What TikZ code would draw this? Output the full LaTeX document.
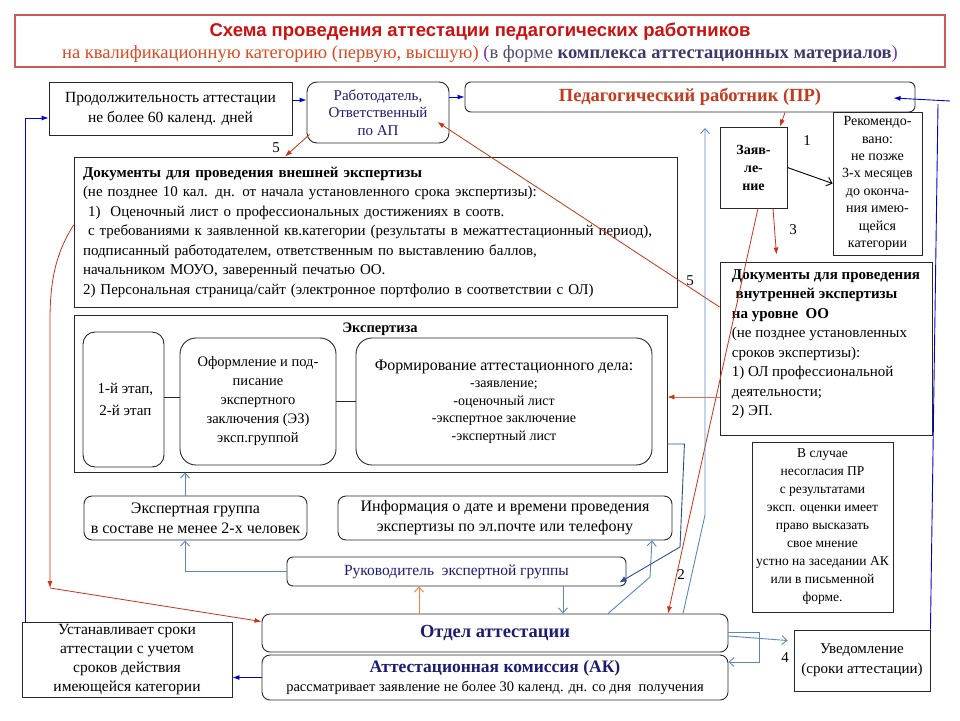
\documentclass[tikz,border=0pt]{standalone}
\usepackage{fontspec}
\setmainfont{Liberation Serif}
\newfontfamily\titlesans{Liberation Sans}
\usetikzlibrary{arrows.meta,calc}
\definecolor{boxgray}{RGB}{40,40,40}
\definecolor{titlered}{RGB}{205,90,90}
\definecolor{tred}{RGB}{204,17,17}
\definecolor{torange}{RGB}{224,72,30}
\definecolor{tpurple}{RGB}{125,50,180}
\definecolor{tgray}{RGB}{80,75,110}
\definecolor{tslate}{RGB}{64,56,106}
\definecolor{navy}{RGB}{28,28,115}
\definecolor{prred}{RGB}{196,58,30}
\definecolor{pureblue}{RGB}{0,0,210}
\definecolor{redc}{RGB}{205,50,20}
\definecolor{palered}{RGB}{225,110,95}
\definecolor{steel}{RGB}{90,135,195}
\definecolor{darksteel}{RGB}{45,80,140}
\definecolor{orangec}{RGB}{240,130,60}
\newcommand\myfsA{\fontsize{15}{20}\selectfont}
\newcommand\myfsC{\fontsize{14}{17.4}\selectfont}
\newcommand\myfsD{\fontsize{15}{19.5}\selectfont}
\begin{document}
\begin{tikzpicture}[x=1pt,y=-1pt,
  box/.style={draw=boxgray, line width=0.9pt, inner sep=2pt, align=center, fill=white},
  rbox/.style={box, rounded corners=8pt},
  blueA/.style={draw=pureblue, line width=0.9pt, -{Latex[length=7pt,width=5pt]}},
  blueL/.style={draw=pureblue, line width=0.9pt},
  redA/.style={draw=redc, line width=0.8pt, -{Latex[length=7pt,width=5pt]}},
  redL/.style={draw=palered, line width=0.8pt, -{Latex[length=7pt,width=5pt,color=redc]}},
  sbA/.style={draw=steel, line width=0.9pt, -{Straight Barb[length=5pt,width=9pt]}},
  dbA/.style={draw=darksteel, line width=0.9pt, -{Latex[length=7pt,width=6pt]}},
  orA/.style={draw=orangec, line width=0.9pt, -{Straight Barb[length=5pt,width=9pt]}},
  blkA/.style={draw=black, line width=0.9pt, -{Straight Barb[length=5pt,width=9pt]}},
  lbl/.style={font=\myfsA, inner sep=1pt}]
\useasboundingbox (0,0) rectangle (960,720);
\fill[white] (0,0) rectangle (960,720);

% title
\node[box, draw=titlered, line width=1.2pt, minimum width=930pt, minimum height=52pt] (title) at (480,41) {};
\node[font=\titlesans\bfseries\fontsize{18.5}{21}\selectfont, text=tred] (t1) at (480,32) {Схема проведения аттестации педагогических работников};
\node[font=\fontsize{18.5}{21}\selectfont] (t2) at (480,54) {\textcolor{torange}{на квалификационную категорию (первую, высшую)} \textcolor{tpurple}{(}\textcolor{tgray}{в форме} \textcolor{tslate}{\textbf{комплекса аттестационных материалов}}\textcolor{tpurple}{)}};

% top row
\node[box, minimum width=243pt, minimum height=53pt, font=\fontsize{15.5}{20}\selectfont] (prod) at (170.5,108.5) {Продолжительность аттестации\\не более 60 календ. дней};
\node[rbox, rounded corners=10pt, minimum width=142pt, minimum height=61pt, font=\fontsize{15}{17.5}\selectfont, text=navy] (rab) at (378,112.5) {Работодатель,\\Ответственный\\по АП};
\node[rbox, rounded corners=6pt, minimum width=450pt, minimum height=30pt, font=\bfseries\fontsize{18.5}{21}\selectfont, text=prred] (pr) at (690,97) {Педагогический работник (ПР)};

% right column
\node[box, minimum width=67pt, minimum height=81pt, font=\bfseries\fontsize{14}{18}\selectfont] (zayav) at (753.5,167.5) {Заяв-\\ле-\\ние};
\node[box, minimum width=89pt, minimum height=143pt, font=\myfsC] (rekom) at (877.5,183.5) {Рекомендо-\\вано:\\не позже\\3-х месяцев\\до оконча-\\ния имею-\\щейся\\категории};
\node[box, minimum width=212pt, minimum height=173pt, align=left, font=\myfsD] (int) at (826,348.5) {\textbf{Документы для проведения}\\\textbf{\ внутренней экспертизы}\\\textbf{на уровне\ \ ОО}\\(не позднее установленных\\сроков экспертизы):\\1) ОЛ профессиональной\\деятельности;\\2) ЭП.\\[-7.5pt]};
\node[box, minimum width=141pt, minimum height=170pt, font=\fontsize{13.5}{18}\selectfont] (sl) at (822.5,527) {В случае\\несогласия ПР\\с результатами\\эксп. оценки имеет\\право высказать\\свое мнение\\устно на заседании АК\\или в письменной\\форме.};
\node[box, minimum width=136pt, minimum height=61pt, font=\myfsA] (uv) at (862,660.5) {Уведомление\\(сроки аттестации)};

% external documents
\node[box, inner xsep=9pt, text width=585pt, minimum height=150pt, align=left, font=\fontsize{15}{19.5}\selectfont] (ext) at (375.5,232) {\textbf{Документы для проведения внешней экспертизы}\\(не позднее 10 кал. дн. от начала установленного срока экспертизы):\\\ 1)\ \ Оценочный лист о профессиональных достижениях в соотв.\\\ с требованиями к заявленной кв.категории (результаты в межаттестационный период),\\подписанный работодателем, ответственным по выставлению баллов,\\начальником МОУО, заверенный печатью ОО.\\2) Персональная страница/сайт (электронное портфолио в соответствии с ОЛ)};

% expertise
\node[box, minimum width=593pt, minimum height=157pt] (exp) at (370.5,393.5) {};
\node[font=\bfseries\fontsize{14.5}{17}\selectfont, inner sep=1pt] (expt) at (380,329) {Экспертиза};
\node[rbox, rounded corners=12pt, minimum width=81pt, minimum height=135pt, font=\fontsize{15}{22}\selectfont] (st) at (123.5,399.5) {\ 1-й этап,\\\ 2-й этап};
\node[rbox, rounded corners=16pt, minimum width=156pt, minimum height=127pt, font=\fontsize{14.5}{19}\selectfont] (of) at (258,401.5) {Оформление и под-\\писание\\экспертного\\заключения (ЭЗ)\\эксп.группой};
\node[rbox, rounded corners=16pt, minimum width=296pt, minimum height=127pt, font=\fontsize{14}{17.5}\selectfont] (fo) at (504,401.5) {{\fontsize{16}{18}\selectfont Формирование аттестационного дела:}\\-заявление;\\-оценочный лист\\-экспертное заключение\\-экспертный лист};

% lower boxes
\node[rbox, minimum width=223pt, minimum height=44pt, font=\fontsize{16}{20}\selectfont] (eg) at (195.5,518) {Экспертная группа\\в составе не менее 2-х человек};
\node[rbox, minimum width=334pt, minimum height=44pt, font=\fontsize{16}{20}\selectfont] (inf) at (505,518) {Информация о дате и времени проведения\\экспертизы по эл.почте или телефону};
\node[rbox, rounded corners=6pt, minimum width=339pt, minimum height=29pt, font=\fontsize{15.5}{20}\selectfont, text=navy] (ruk) at (456.5,571.5) {Руководитель\ \ экспертной группы};
\node[rbox, minimum width=466pt, minimum height=38pt, font=\bfseries\fontsize{18.5}{20}\selectfont, text=navy] (otd) at (495,633) {Отдел\ аттестации};
\node[rbox, minimum width=466pt, minimum height=45pt, font=\fontsize{14.5}{18.5}\selectfont] (ak) at (495,677.5) {{\bfseries\fontsize{17.5}{19}\selectfont\color{navy}Аттестационная комиссия (АК)}\\рассматривает заявление не более 30 календ. дн. со дня\ \ получения};
\node[box, minimum width=210pt, minimum height=75pt, font=\fontsize{15.5}{19}\selectfont] (ust) at (127,659.5) {Устанавливает сроки\\аттестации с учетом\\сроков действия\\имеющейся категории};

% coordinates
\coordinate (rtop) at (938,104);
\coordinate (rstart) at (950,101);
\coordinate (lb) at (50,588);
\coordinate (m1) at (650,577);
\coordinate (m2) at (705,515);
\coordinate (pa) at (705,128);
\coordinate (m3) at (680,547);

% blue connectors
\draw[blueA] ([yshift=8.5pt]prod.east) -- ([yshift=8.5pt]prod.east -| rab.west);
\draw[blueA] (rab.east |- pr.west) -- (pr.west);
\draw[blueA] ([xshift=4pt]ust.north west) |- ([yshift=-9.5pt]prod.west);
\draw[blueA] (ak.west) -- (ak.west -| ust.east);
\draw[blueL] (uv.north east) -- (rtop);
\draw[blueA] (rstart) -- ([xshift=-22pt,yshift=-1pt]pr.east);

% red connectors
\draw[redA] ([xshift=95pt]pr.south) -- ([xshift=26.5pt]zayav.north);
\draw[redA, shorten >=7pt] ([xshift=19.5pt]zayav.south) -- ([xshift=-49pt]int.north);
\draw[redA] ([xshift=4.5pt]zayav.south) -- ([xshift=173pt]otd.north);
\draw[redA] ([xshift=3pt,yshift=9pt]rab.south west) -- ([xshift=-90.5pt]ext.north);
\draw[redA] ([yshift=41.5pt]int.west) -- ([xshift=-12pt,yshift=-9.5pt]rab.east);
\draw[redL] ([yshift=-48.5pt]int.west) -- ([yshift=-48.5pt]int.west -| exp.east);
\draw[redA] ([yshift=7pt]ext.west) .. controls (58,250) and (50,275) .. (50,320) -- (lb);
\draw[redA] (lb) -- ([yshift=-8pt]otd.north west);

% steel blue connectors
\draw[sbA] (ruk.west) -| ([xshift=-10.5pt]eg.south);
\draw[sbA] ([xshift=-10.5pt]eg.north) -- ([xshift=-10.5pt]eg.north |- exp.south);
\draw[sbA] ([xshift=106.5pt]ruk.south) -- ([xshift=106.5pt]ruk.south |- otd.north);
\draw[orA] ([xshift=-76pt]otd.north) -- ([xshift=-76pt]otd.north |- ruk.south);
\draw[sbA] ([xshift=113pt]otd.north) -- (m1) -- ([xshift=147pt]inf.south);
\draw[sbA] ([xshift=188pt]otd.north) -- (m2) -- (pa);
\draw[dbA] ([yshift=-50.5pt]exp.east) -- ++(17,0) -- (m3) -- ([xshift=-7pt,yshift=4pt]ruk.south east);
\draw[sbA, shorten >=6pt] ([yshift=-3pt]otd.east) -- ([yshift=19.5pt]uv.west);
\draw[sbA] ([yshift=1pt]otd.east) -- ++(31,0) |- ([yshift=15.5pt]ak.east);

% black
\draw[blkA] (zayav.east) -- (rekom.west);

% inner links
\draw[line width=0.9pt, draw=boxgray] ([yshift=2pt]st.east) -- ([yshift=2pt]st.east -| of.west);
\draw[line width=0.9pt, draw=boxgray] (of.east) -- (fo.west);

% labels
\node[lbl] (n1) at (807,141) {1};
\node[lbl] (n3) at (793,230) {3};
\node[lbl] (n2) at (681,575) {2};
\node[lbl] (n5a) at (276,148) {5};
\node[lbl] (n5b) at (690,281) {5};
\node[lbl] (n4) at (785,658) {4};
\end{tikzpicture}
\end{document}
